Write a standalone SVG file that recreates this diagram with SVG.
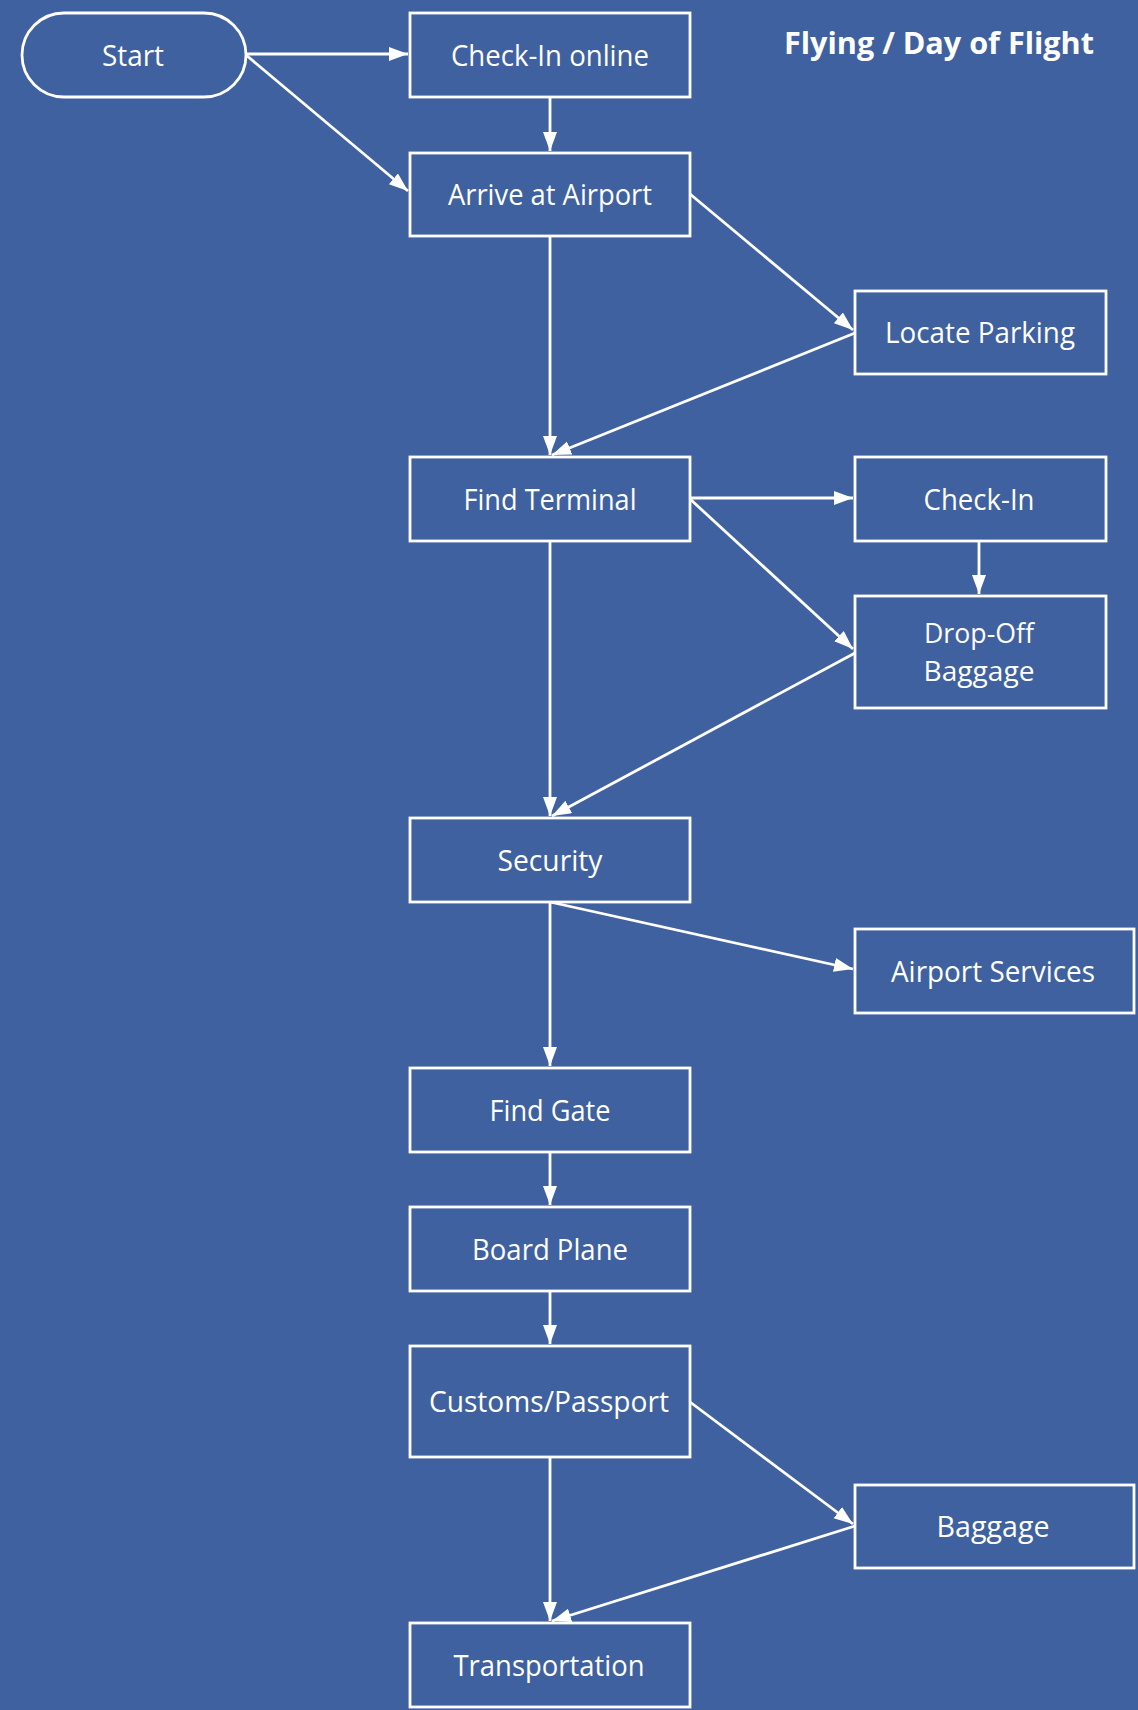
<svg xmlns="http://www.w3.org/2000/svg" width="1138" height="1710" viewBox="0 0 1138 1710">
<defs>
<style>
.box{fill:none;stroke:#fff;stroke-width:2.8}
.lbl{font-family:"Open Sans","Noto Sans",sans-serif;font-size:30px;fill:#fff;text-anchor:middle}
.lbl2{font-size:27px}
.title{font-family:"Open Sans","Noto Sans",sans-serif;font-size:30px;font-weight:bold;fill:#fff}
.edge{fill:none;stroke:#fff;stroke-width:2.8;marker-end:url(#ah)}
</style>
<marker id="ah" markerUnits="userSpaceOnUse" markerWidth="22" markerHeight="16" refX="19" refY="7" orient="auto">
<path d="M0,0 L19,7 L0,14 z" fill="#fff"/>
</marker>
</defs>
<rect x="0" y="0" width="1138" height="1710" fill="#4061A0"/>
<text class="title" x="784" y="54" textLength="310" lengthAdjust="spacingAndGlyphs">Flying / Day of Flight</text>

<g id="edges">
<line class="edge" x1="246" y1="54" x2="408" y2="54"/>
<line class="edge" x1="246" y1="55" x2="408" y2="191"/>
<line class="edge" x1="550" y1="97" x2="550" y2="151"/>
<line class="edge" x1="690" y1="194" x2="853" y2="330"/>
<line class="edge" x1="550" y1="236" x2="550" y2="455"/>
<line class="edge" x1="855" y1="333" x2="552" y2="455"/>
<line class="edge" x1="690" y1="498" x2="853" y2="498"/>
<line class="edge" x1="690" y1="499" x2="853" y2="649"/>
<line class="edge" x1="979" y1="541" x2="979" y2="594"/>
<line class="edge" x1="550" y1="541" x2="550" y2="816"/>
<line class="edge" x1="855" y1="653" x2="552" y2="816"/>
<line class="edge" x1="550" y1="902" x2="853" y2="969"/>
<line class="edge" x1="550" y1="902" x2="550" y2="1066"/>
<line class="edge" x1="550" y1="1152" x2="550" y2="1205"/>
<line class="edge" x1="550" y1="1291" x2="550" y2="1344"/>
<line class="edge" x1="690" y1="1402" x2="853" y2="1524"/>
<line class="edge" x1="550" y1="1457" x2="550" y2="1621"/>
<line class="edge" x1="855" y1="1526" x2="552" y2="1621"/>
</g>

<g id="start">
<rect class="box" x="22" y="13" width="224" height="84" rx="42" ry="42"/>
<text class="lbl" x="133" y="66" textLength="62" lengthAdjust="spacingAndGlyphs">Start</text>
</g>
<g id="checkin-online">
<rect class="box" x="410" y="13" width="280" height="84"/>
<text class="lbl" x="550" y="66" textLength="198" lengthAdjust="spacingAndGlyphs">Check-In online</text>
</g>
<g id="arrive">
<rect class="box" x="410" y="153" width="280" height="83"/>
<text class="lbl" x="550" y="205" textLength="204" lengthAdjust="spacingAndGlyphs">Arrive at Airport</text>
</g>
<g id="locate-parking">
<rect class="box" x="855" y="291" width="251" height="83"/>
<text class="lbl" x="980" y="343" textLength="190" lengthAdjust="spacingAndGlyphs">Locate Parking</text>
</g>
<g id="find-terminal">
<rect class="box" x="410" y="457" width="280" height="84"/>
<text class="lbl" x="550" y="510" textLength="173" lengthAdjust="spacingAndGlyphs">Find Terminal</text>
</g>
<g id="checkin">
<rect class="box" x="855" y="457" width="251" height="84"/>
<text class="lbl" x="979" y="510" textLength="111" lengthAdjust="spacingAndGlyphs">Check-In</text>
</g>
<g id="dropoff">
<rect class="box" x="855" y="596" width="251" height="112"/>
<text class="lbl lbl2" x="979" y="643" textLength="110" lengthAdjust="spacingAndGlyphs">Drop-Off</text>
<text class="lbl lbl2" x="979" y="681" textLength="111" lengthAdjust="spacingAndGlyphs">Baggage</text>
</g>
<g id="security">
<rect class="box" x="410" y="818" width="280" height="84"/>
<text class="lbl" x="550" y="871" textLength="105" lengthAdjust="spacingAndGlyphs">Security</text>
</g>
<g id="airport-services">
<rect class="box" x="855" y="929" width="279" height="84"/>
<text class="lbl" x="993" y="982" textLength="204" lengthAdjust="spacingAndGlyphs">Airport Services</text>
</g>
<g id="find-gate">
<rect class="box" x="410" y="1068" width="280" height="84"/>
<text class="lbl" x="550" y="1121" textLength="121" lengthAdjust="spacingAndGlyphs">Find Gate</text>
</g>
<g id="board-plane">
<rect class="box" x="410" y="1207" width="280" height="84"/>
<text class="lbl" x="550" y="1260" textLength="156" lengthAdjust="spacingAndGlyphs">Board Plane</text>
</g>
<g id="customs">
<rect class="box" x="410" y="1346" width="280" height="111"/>
<text class="lbl" x="549" y="1412" textLength="240" lengthAdjust="spacingAndGlyphs">Customs/Passport</text>
</g>
<g id="baggage">
<rect class="box" x="855" y="1485" width="279" height="83"/>
<text class="lbl" x="993" y="1537" textLength="113" lengthAdjust="spacingAndGlyphs">Baggage</text>
</g>
<g id="transportation">
<rect class="box" x="410" y="1623" width="280" height="84"/>
<text class="lbl" x="549" y="1676" textLength="191" lengthAdjust="spacingAndGlyphs">Transportation</text>
</g>
</svg>
